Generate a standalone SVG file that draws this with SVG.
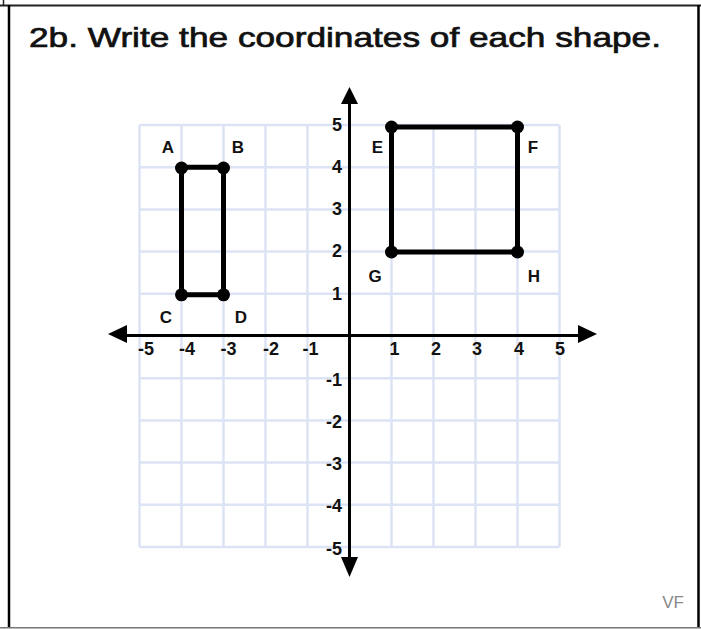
<svg xmlns="http://www.w3.org/2000/svg" width="701" height="629" viewBox="0 0 701 629">
<style>
.grid{stroke:#dbe3f4;stroke-width:2.5;fill:none}
.axis{stroke:#000;stroke-width:3;fill:none}
.shape{stroke:#000;stroke-width:5;fill:none;stroke-linejoin:round}
.dot{fill:#000}
.lbl{font-family:"Liberation Sans",Arial,sans-serif;font-weight:bold;font-size:17px;fill:#111;text-anchor:middle}
.num{font-family:"Liberation Sans",Arial,sans-serif;font-weight:bold;font-size:18px;fill:#111}
.title{font-family:"Liberation Sans",Arial,sans-serif;font-size:28px;fill:#111;stroke:#111;stroke-width:0.7}
</style>
<rect x="0" y="0" width="701" height="629" fill="#fff"/>
<g id="frame">
<line x1="0" y1="5.5" x2="701" y2="5.5" stroke="#222" stroke-width="2"/>
<line x1="3.5" y1="0" x2="3.5" y2="5" stroke="#222" stroke-width="1.5"/>
<line x1="9" y1="5" x2="9" y2="628" stroke="#000" stroke-width="2.5"/>
<line x1="698.5" y1="5" x2="698.5" y2="628" stroke="#000" stroke-width="2.5"/>
<line x1="0" y1="627.8" x2="701" y2="627.8" stroke="#777" stroke-width="1.6"/>
</g>
<text id="title" class="title" x="29" y="47" textLength="632" lengthAdjust="spacingAndGlyphs">2b. Write the coordinates of each shape.</text>
<g id="grid" class="grid">
<path d="M139.5 125V547M181.5 125V547M223.5 125V547M265.5 125V547M307.5 125V547M349.5 125V547M391.5 125V547M433.5 125V547M475.5 125V547M517.5 125V547M559.5 125V547"/>
<path d="M139.5 125H559.5M139.5 167.2H559.5M139.5 209.4H559.5M139.5 251.6H559.5M139.5 293.8H559.5M139.5 336H559.5M139.5 378.2H559.5M139.5 420.4H559.5M139.5 462.6H559.5M139.5 504.8H559.5M139.5 547H559.5"/>
</g>
<g id="axes">
<line class="axis" x1="124" y1="335.5" x2="580" y2="335.5"/>
<line class="axis" x1="349.5" y1="100" x2="349.5" y2="560"/>
<polygon points="108,334 127,325 127,343" fill="#000"/>
<polygon points="597,334 578,325 578,343" fill="#000"/>
<polygon points="349.5,87 341,104 358,104" fill="#000"/>
<polygon points="349.5,577 341,557 358,557" fill="#000"/>
</g>
<g id="xlabels" class="num">
<text x="146" y="355" text-anchor="middle">-5</text>
<text x="187" y="355" text-anchor="middle">-4</text>
<text x="228.5" y="355" text-anchor="middle">-3</text>
<text x="271" y="355" text-anchor="middle">-2</text>
<text x="310.5" y="355" text-anchor="middle">-1</text>
<text x="394.5" y="355" text-anchor="middle">1</text>
<text x="436" y="355" text-anchor="middle">2</text>
<text x="477" y="355" text-anchor="middle">3</text>
<text x="519" y="355" text-anchor="middle">4</text>
<text x="560" y="355" text-anchor="middle">5</text>
</g>
<g id="ylabels" class="num">
<text x="342" y="131" text-anchor="end">5</text>
<text x="342" y="173" text-anchor="end">4</text>
<text x="342" y="215" text-anchor="end">3</text>
<text x="342" y="257" text-anchor="end">2</text>
<text x="342" y="300" text-anchor="end">1</text>
<text x="342" y="386" text-anchor="end">-1</text>
<text x="342" y="428" text-anchor="end">-2</text>
<text x="342" y="470" text-anchor="end">-3</text>
<text x="342" y="512" text-anchor="end">-4</text>
<text x="342" y="555" text-anchor="end">-5</text>
</g>
<g id="shapeABCD">
<polygon class="shape" points="181.5,167.2 223.5,167.2 223.5,294.8 181.5,294.8"/>
<circle class="dot" cx="181.5" cy="168" r="6.5"/>
<circle class="dot" cx="223.5" cy="168" r="6.5"/>
<circle class="dot" cx="181.5" cy="294.8" r="6.5"/>
<circle class="dot" cx="223.5" cy="294.8" r="6.5"/>
<text class="lbl" x="168" y="153">A</text>
<text class="lbl" x="238" y="153">B</text>
<text class="lbl" x="166" y="323">C</text>
<text class="lbl" x="241" y="323">D</text>
</g>
<g id="shapeEFGH">
<polygon class="shape" points="391.5,127 517.5,127 517.5,252 391.5,252"/>
<circle class="dot" cx="391.5" cy="127" r="6.5"/>
<circle class="dot" cx="517.5" cy="127" r="6.5"/>
<circle class="dot" cx="391.5" cy="252" r="6.5"/>
<circle class="dot" cx="517.5" cy="252" r="6.5"/>
<text class="lbl" x="377.5" y="153">E</text>
<text class="lbl" x="533" y="153">F</text>
<text class="lbl" x="375" y="282">G</text>
<text class="lbl" x="534" y="282">H</text>
</g>
<text id="vf" x="673" y="608" font-family="'Liberation Sans',Arial,sans-serif" font-size="17" fill="#888" text-anchor="middle">VF</text>
</svg>
